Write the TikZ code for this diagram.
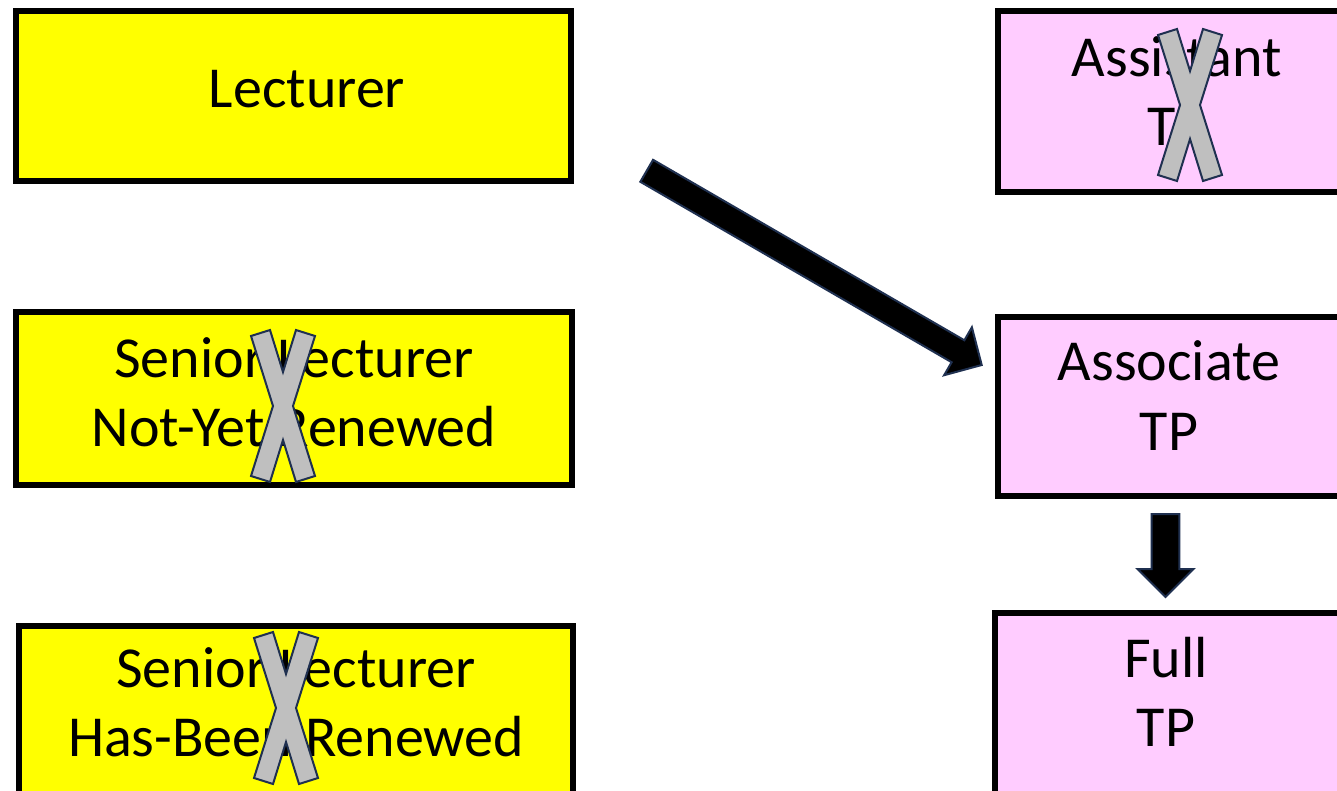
\documentclass[tikz,border=0pt]{standalone}
\usepackage{fontspec}
\setmainfont{Carlito}
\usetikzlibrary{calc}

\definecolor{boxyellow}{HTML}{FFFF00}
\definecolor{boxpink}{HTML}{FFCCFF}
\definecolor{crossgray}{HTML}{BFBFBF}
\definecolor{edgenavy}{HTML}{1F3050}

% block arrow from tail #1 to tip #2, shaft half width #3, head half width #4, head length #5
\newcommand\drawblockarrow[5]{%
  \coordinate (ba-hb) at ($(#2)!#5!(#1)$);
  \draw[blockarrow] ($(#1)!#3!90:(#2)$) -- ($(ba-hb)!#3!90:(#2)$)
    -- ($(ba-hb)!#4!90:(#2)$) -- (#2) -- ($(ba-hb)!#4!-90:(#2)$)
    -- ($(ba-hb)!#3!-90:(#2)$) -- ($(#1)!#3!-90:(#2)$) -- cycle;
}

\tikzset{
  rolebox/.style={rectangle, draw=black, line width=6pt, inner sep=0pt, outer sep=0pt, anchor=north west},
  lecbox/.style={rolebox, fill=boxyellow},
  tpbox/.style={rolebox, fill=boxpink},
  roletext/.style={font=\fontsize{58}{69}\selectfont, inner sep=0pt, anchor=base, text=black},
  blockarrow/.style={draw=edgenavy, line width=2pt, fill=black, line join=miter},
  strike/.pic={
    \draw[draw=edgenavy, line width=2pt, fill=crossgray, line join=miter]
      (-32,-70) -- (-13,-76) -- (0,-34) -- (13,-76) -- (32,-70) -- (10,0)
      -- (32,70) -- (13,76) -- (0,34) -- (-13,76) -- (-32,70) -- (-10,0) -- cycle;
  }
}

\begin{document}
\begin{tikzpicture}[x=1pt, y=-1pt]
\useasboundingbox (0,0) rectangle (1337,791);
\fill[white] (0,0) rectangle (1337,791);

% lecturer track
\node[lecbox, minimum width=555pt, minimum height=170.3pt] (lect) at (16,11) {};
\node[roletext] (lect-t) at (307,108) {Lecturer};

\node[lecbox, minimum width=556pt, minimum height=172.2pt] (snr) at (16,312.3) {};
\node[roletext] (snr-t1) at (294,377) {Senior Lecturer};
\node[roletext] (snr-t2) at (294,446) {Not-Yet Renewed};

\node[lecbox, minimum width=554.3pt, minimum height=180pt] (sr) at (18.7,625.5) {};
\node[roletext] (sr-t1) at (296,687) {Senior Lecturer};
\node[roletext] (sr-t2) at (296,756) {Has-Been Renewed};

% teaching professor track
\node[tpbox, minimum width=342pt, minimum height=181pt] (atp) at (998,11) {};
\node[roletext] (atp-t1) at (1177,77) {Assistant};
\node[roletext] (atp-t2) at (1177,146) {TP};

\node[tpbox, minimum width=342pt, minimum height=179pt] (astp) at (998,317) {};
\node[roletext] (astp-t1) at (1169,380) {Associate};
\node[roletext] (astp-t2) at (1169,450) {TP};

\node[tpbox, minimum width=345pt, minimum height=190pt] (ftp) at (995,613) {};
\node[roletext] (ftp-t1) at (1166,677) {Full};
\node[roletext] (ftp-t2) at (1166,746) {TP};

% struck-out positions
\pic at (1190,105) {strike};
\pic at (283,406) {strike};
\pic at (286,708) {strike};

% transitions
\coordinate (promote-from) at (646.7,170.8);
\coordinate (promote-to) at (981.7,365);
\drawblockarrow{promote-from}{promote-to}{12.7pt}{27.7pt}{27.4pt}

\coordinate (advance-from) at (1165.5,514);
\coordinate (advance-to) at (1165.5,597);
\drawblockarrow{advance-from}{advance-to}{13.8pt}{28pt}{28pt}
\end{tikzpicture}
\end{document}
